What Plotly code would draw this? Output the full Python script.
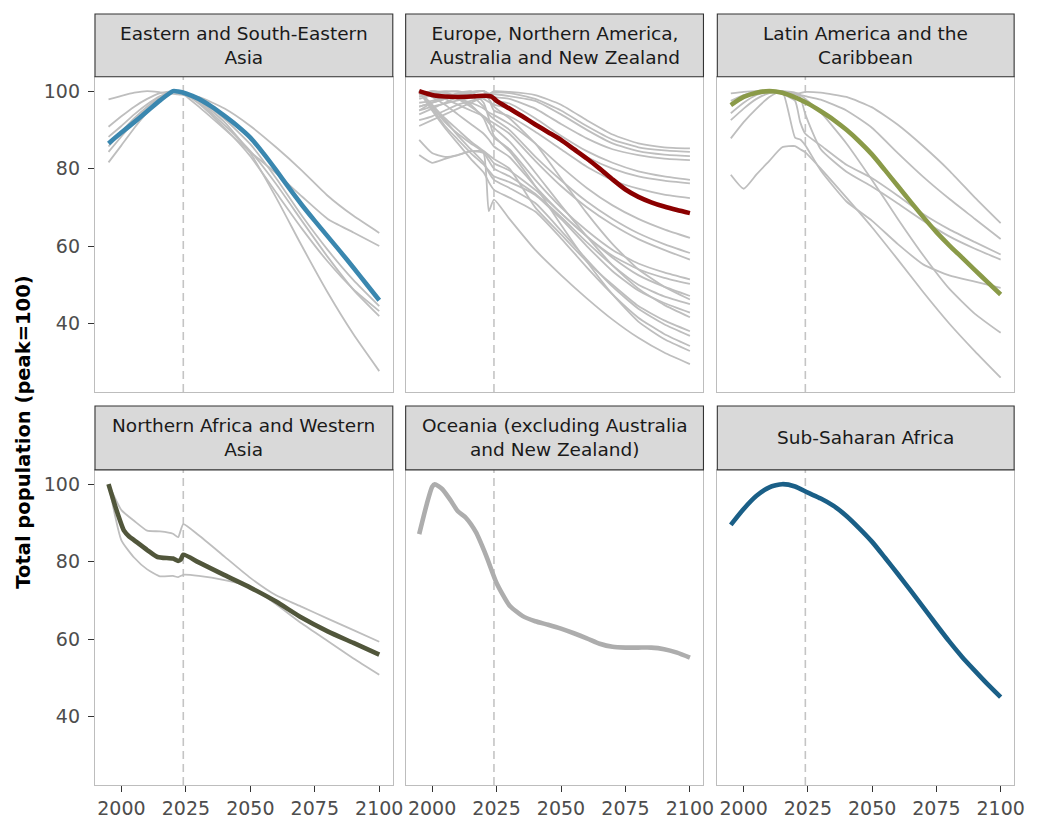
import plotly.graph_objects as go

# ---------------- data ----------------
GRID_YEARS = [1995, 2000, 2005, 2010, 2015, 2020, 2022, 2024, 2030, 2040, 2050, 2060, 2070, 2080, 2090, 2100]

# Eastern and South-Eastern Asia
EA_YEARS = [1995, 2000, 2005, 2010, 2015, 2020, 2022, 2025, 2030, 2035, 2040, 2045, 2050,
            2055, 2060, 2065, 2070, 2075, 2080, 2085, 2090, 2095, 2100]
EA_REGION = [86.5, 89.3, 92, 94.8, 97.6, 100, 99.9, 99.4, 98, 96, 93.6, 91, 88,
             84, 79.6, 75, 70.6, 66.5, 62.5, 58.5, 54.4, 50.2, 46]
EA_GRAY = [
    [97.9, 98.8, 99.6, 100, 99.7, 99.3, 99.2, 99.0, 98.5, 95.5, 91, 85.5, 79.5, 73, 67.8, 63.4],
    [90.8, 93.5, 96, 98, 99.5, 100, 99.8, 99.2, 96, 90.2, 84.3, 78.8, 72.8, 67, 63.5, 60],
    [81.6, 86, 90.5, 94.5, 98, 99.8, 100, 99.7, 97.6, 92, 84, 72.5, 60, 48, 37.2, 27.7],
    [85.7, 89.5, 93, 96, 98.5, 99.8, 100, 99.7, 97.8, 92.8, 86.3, 77.5, 67.8, 59, 51.2, 44.5],
    [84.3, 88.3, 92.2, 95.8, 98.4, 99.8, 100, 99.5, 96.8, 90.5, 83.2, 73.8, 64.5, 56, 48.8, 43.2],
    [88.2, 91, 94, 96.6, 98.7, 99.9, 100, 99.6, 97.2, 91.2, 84.5, 76, 66.5, 57.2, 48.7, 41.9],
]

# Europe, Northern America, Australia and New Zealand
EU_YEARS = [1995, 2000, 2005, 2010, 2015, 2020, 2023, 2025, 2030, 2035, 2040, 2045, 2050,
            2055, 2060, 2065, 2070, 2075, 2080, 2085, 2090, 2095, 2100]
EU_REGION = [100, 99, 98.6, 98.5, 98.6, 98.8, 98.6, 97.5, 95.5, 93.5, 91.4, 89.4, 87.4,
             85, 82.6, 80, 77.2, 74.6, 72.7, 71.3, 70.2, 69.3, 68.5]
EU_GRAY = [
    [91, 92.5, 94, 95.5, 97, 98.5, 99.2, 100, 99.8, 99, 96.5, 92.5, 88.8, 86.5, 85.5, 85.2],
    [95, 96, 96.8, 97.6, 98.3, 99, 99.3, 99.6, 99.5, 98, 95, 91, 87.5, 85.5, 84.7, 84.3],
    [92.5, 93.5, 95, 96.5, 97.5, 98.3, 98.8, 99.2, 98.7, 97.5, 94, 90, 86.5, 84.5, 83.6, 83.2],
    [97, 97.5, 98.5, 99.2, 99.8, 100, 99.4, 98.5, 98, 95.5, 91.5, 87.8, 85, 83.5, 82.6, 82.2],
    [96, 97, 98, 99, 99.6, 100, 99.2, 97.7, 96.8, 93, 88.5, 84.5, 81.5, 79.3, 78, 77.1],
    [98.5, 99.5, 100, 99.8, 99.2, 98, 97.2, 96.5, 95.5, 91.5, 87, 83, 80, 78, 76.9, 76.2],
    [96, 97, 98, 99, 99.7, 100, 98, 95, 93.5, 89.5, 85, 80.5, 77, 74.8, 73.3, 72.4],
    [100, 99.5, 98.8, 98, 97, 95.5, 94.5, 93.8, 91.5, 86.5, 80.5, 75, 70.5, 67, 64.3, 62.1],
    [98, 99, 99.7, 100, 99, 96, 94, 92.8, 90, 83.1, 77, 71.5, 67, 63.3, 60.5, 58.2],
    [100, 99, 98, 96.5, 95, 93.5, 92.5, 91.7, 89, 82, 75.5, 70, 65.5, 61.8, 59, 56.5],
    [99, 100, 99.6, 98.5, 96.5, 93, 90, 88, 85, 77.1, 70, 64, 59, 55.5, 53.2, 51.4],
    [100, 98.5, 96.5, 94, 91.5, 89, 87.5, 85.7, 83, 75.4, 68.5, 62.5, 57.5, 54, 51.8, 50.2],
    [100, 96.5, 93, 90, 87, 84.5, 83, 81.4, 79.5, 74.5, 68.5, 62.5, 57, 52.5, 49.5, 47.1],
    [94, 95.5, 97, 98.5, 99.5, 100, 98, 96, 93, 86.5, 77.5, 68.5, 60.5, 54, 49.5, 46.2],
    [100, 95.5, 91, 87.5, 84, 81, 79.5, 78, 76.5, 73.2, 67, 60, 53.5, 48.5, 45.3, 42.8],
    [99, 100, 99.5, 98, 96, 93.5, 91.8, 90.5, 87, 79, 70.5, 62.5, 55, 49, 44.8, 41.6],
    [100, 96, 92.5, 88.5, 85, 81.5, 79, 77.1, 75, 71.1, 64, 56.5, 49.5, 43.8, 39.8, 36.8],
    [100, 95, 90.5, 86.5, 82.5, 79, 76.5, 74.5, 72.5, 68.9, 62, 54.5, 47.5, 41.5, 37.3, 34.2],
    [95, 97, 98.5, 99.5, 100, 97, 93, 88.5, 84.5, 75.5, 65.5, 56, 47.5, 40.5, 36, 32.9],
    [100, 96, 92, 89, 86.5, 84, 69, 72, 67, 59, 52.5, 46.5, 41, 36.3, 32.5, 29.5],
    [87.4, 84, 83, 83.5, 84.5, 84, 82, 80, 78, 73.5, 67.5, 61, 55, 50, 47, 45],
    [83.5, 81.5, 82.5, 83.5, 84.5, 84.5, 83.5, 82.5, 80, 70, 63, 56, 50, 44.5, 40.8, 38],
]

# Latin America and the Caribbean
LA_YEARS = [1995, 2000, 2005, 2010, 2015, 2020, 2025, 2030, 2035, 2040, 2045, 2050,
            2055, 2060, 2065, 2070, 2075, 2080, 2085, 2090, 2095, 2100]
LA_REGION = [96.4, 98.5, 99.6, 100, 99.6, 98.4, 96.8, 94.8, 92.6, 90, 87, 83.6,
             79.6, 75.5, 71.4, 67.4, 63.6, 60.2, 57, 53.8, 50.6, 47.5]
LA_GRAY = [
    [99.4, 99.8, 100, 99.9, 99.6, 99.4, 99.5, 99.8, 99.6, 98.5, 95.8, 91.3, 85.7, 79.5, 72.5, 65.9],
    [97.5, 99, 99.7, 100, 99.7, 99.2, 99, 98.7, 97.8, 95, 90.5, 84, 77.8, 72.2, 67, 61.8],
    [96.5, 98.5, 99.5, 100, 99.3, 97.5, 92, 89, 86, 81, 77.5, 73, 68.2, 64.3, 61, 57.8],
    [94.3, 97, 99, 99.8, 100, 99.2, 98.5, 94, 85, 79.2, 75.3, 71, 66.5, 62.5, 59.3, 56.5],
    [87.8, 92, 95.5, 98.5, 100, 88, 87.5, 86, 79.5, 71.5, 66.5, 60.5, 55.2, 52.4, 50.8, 49.2],
    [92.5, 95.5, 98, 99.5, 100, 99.6, 99, 98, 94.5, 86.5, 77, 67, 57.5, 49, 42.5, 37.6],
    [78.4, 74.8, 78.5, 82, 85.5, 85.8, 85, 84.2, 80, 72.5, 64.8, 56.5, 48, 40, 32.8, 26],
]

# Northern Africa and Western Asia
NA_YEARS = [1995, 1998, 2001, 2003, 2005, 2010, 2014, 2020, 2022, 2023, 2024, 2030, 2040,
            2050, 2060, 2070, 2080, 2090, 2100]
NA_REGION = [100, 93.5, 88, 86.5, 85.5, 83, 81.2, 80.8, 80.2, 80.5, 81.8, 79.8, 76.5,
             73.3, 69.7, 65.5, 62, 59, 56]
NA_GRAY = [
    [100, 93.3, 90.5, 88, 87.8, 87.2, 86.3, 89.7, 86.8, 81.3, 75.8, 71.3, 68.3, 65.3, 62.3, 59.3],
    [100, 85.5, 81, 78, 76.2, 76.3, 76, 76.6, 76.3, 75.2, 73.5, 69, 64, 59.5, 55, 50.8],
]

# Oceania (excluding Australia and New Zealand)
OC_YEARS = [1995, 1998, 2000, 2001, 2004, 2007, 2010, 2013, 2017, 2021, 2025, 2030, 2035,
            2040, 2045, 2050, 2055, 2060, 2065, 2070, 2075, 2080, 2085, 2090, 2095, 2100]
OC_REGION = [87.1, 95, 99.3, 100, 98.7, 96, 93, 91.4, 87.6, 81.5, 74.5, 68.7, 66,
             64.6, 63.7, 62.7, 61.5, 60.2, 58.8, 58, 57.8, 57.8, 57.8, 57.4, 56.5, 55.2]

# Sub-Saharan Africa
SS_YEARS = [1995, 2000, 2005, 2010, 2015, 2020, 2025, 2030, 2035, 2040, 2045, 2050,
            2055, 2060, 2065, 2070, 2075, 2080, 2085, 2090, 2095, 2100]
SS_REGION = [89.5, 93.6, 97, 99.2, 100, 99.4, 97.8, 96.3, 94.4, 91.8, 88.6, 85.1,
             81, 76.8, 72.5, 68.1, 63.7, 59.4, 55.4, 51.8, 48.3, 45]

PANEL_TITLES = [
    "Eastern and South-Eastern<br>Asia",
    "Europe, Northern America,<br>Australia and New Zealand",
    "Latin America and the<br>Caribbean",
    "Northern Africa and Western<br>Asia",
    "Oceania (excluding Australia<br>and New Zealand)",
    "Sub-Saharan Africa",
]
PANEL_COLORS = ["#3A87AF", "#8B0000", "#8A9A48", "#51563B", "#ADADAD", "#1A5F87"]
X_TICKS = [2000, 2025, 2050, 2075, 2100]
Y_TICKS = [40, 60, 80, 100]
CURRENT_YEAR = 2024
Y_TITLE = "Total population (peak=100)"

# ---------------- layout geometry ----------------
W, H = 1038, 819
COL_PX = [(96, 397), (410, 711), (725, 1025)]
ROW_PX = [(77, 393), (471, 787)]
STRIP_PX = [(14, 77), (407, 471)]
XR = [1989.75, 2105.25]
YR = [22.3, 103.7]
FONT = "DejaVu Sans, Liberation Sans, Arial, sans-serif"
GRAY = "#BEBEBE"

panels = [
    (EA_GRAY, EA_YEARS, EA_REGION),
    (EU_GRAY, EU_YEARS, EU_REGION),
    (LA_GRAY, LA_YEARS, LA_REGION),
    (NA_GRAY, NA_YEARS, NA_REGION),
    ([], OC_YEARS, OC_REGION),
    ([], SS_YEARS, SS_REGION),
]

fig = go.Figure()
shapes = []
annotations = []
layout_axes = {}

for i, (grays, ry, rv) in enumerate(panels):
    sfx = "" if i == 0 else str(i + 1)
    r, c = divmod(i, 3)
    for g in grays:
        fig.add_trace(go.Scatter(x=GRID_YEARS, y=g, mode="lines",
                                 line=dict(color=GRAY, width=1.8, shape="spline", smoothing=0.5),
                                 xaxis="x" + sfx, yaxis="y" + sfx,
                                 hoverinfo="skip", showlegend=False))
    fig.add_trace(go.Scatter(x=ry, y=rv, mode="lines",
                             line=dict(color=PANEL_COLORS[i], width=4.6,
                                       shape="spline", smoothing=0.6),
                             xaxis="x" + sfx, yaxis="y" + sfx,
                             showlegend=False))
    x0, x1 = COL_PX[c]
    y0, y1 = ROW_PX[r]
    s0, s1 = STRIP_PX[r]
    layout_axes["xaxis" + sfx] = dict(
        domain=[x0 / W, x1 / W], anchor="y" + sfx, range=XR,
        tickvals=X_TICKS, ticktext=[str(t) for t in X_TICKS],
        ticks="outside" if r == 1 else "", showticklabels=(r == 1),
        ticklen=6, tickwidth=1.4, tickcolor="#333333",
        showline=True, mirror=True, linecolor="#BDBDBD", linewidth=1.3,
        showgrid=False, zeroline=False, fixedrange=True,
        tickfont=dict(family=FONT, size=19, color="#4D4D4D"),
    )
    layout_axes["yaxis" + sfx] = dict(
        domain=[1 - y1 / H, 1 - y0 / H], anchor="x" + sfx, range=YR,
        tickvals=Y_TICKS, ticktext=[str(t) for t in Y_TICKS],
        ticks="outside" if c == 0 else "", showticklabels=(c == 0),
        ticklen=6, tickwidth=1.4, tickcolor="#333333",
        showline=True, mirror=True, linecolor="#BDBDBD", linewidth=1.3,
        showgrid=False, zeroline=False, fixedrange=True,
        ticklabelstandoff=4,
        tickfont=dict(family=FONT, size=19, color="#4D4D4D"),
    )
    # dashed line for current year
    shapes.append(dict(type="line", xref="x" + sfx, yref="y" + sfx + " domain",
                       x0=CURRENT_YEAR, x1=CURRENT_YEAR, y0=0, y1=1, layer="below",
                       line=dict(color="#C4C4C4", width=1.6, dash="8px,5px")))
    # strip
    shapes.append(dict(type="rect", xref="paper", yref="paper",
                       x0=x0 / W, x1=x1 / W, y0=1 - s1 / H, y1=1 - s0 / H,
                       fillcolor="#D9D9D9", line=dict(color="#333333", width=1.1)))
    annotations.append(dict(text=PANEL_TITLES[i], xref="paper", yref="paper",
                            x=(x0 + x1) / 2 / W, y=1 - (s0 + s1) / 2 / H,
                            xanchor="center", yanchor="middle", showarrow=False,
                            font=dict(family=FONT, size=18.5, color="#1A1A1A")))

annotations.append(dict(text="<b>" + Y_TITLE + "</b>", xref="paper", yref="paper",
                        x=24 / W, y=1 - 433 / H, textangle=-90,
                        xanchor="center", yanchor="middle", showarrow=False,
                        font=dict(family=FONT, size=19.5, color="#000000")))

fig.update_layout(
    width=W, height=H, margin=dict(l=0, r=0, t=0, b=0),
    paper_bgcolor="white", plot_bgcolor="white",
    shapes=shapes, annotations=annotations, showlegend=False,
    **layout_axes,
)

fig.write_html("out.html")
